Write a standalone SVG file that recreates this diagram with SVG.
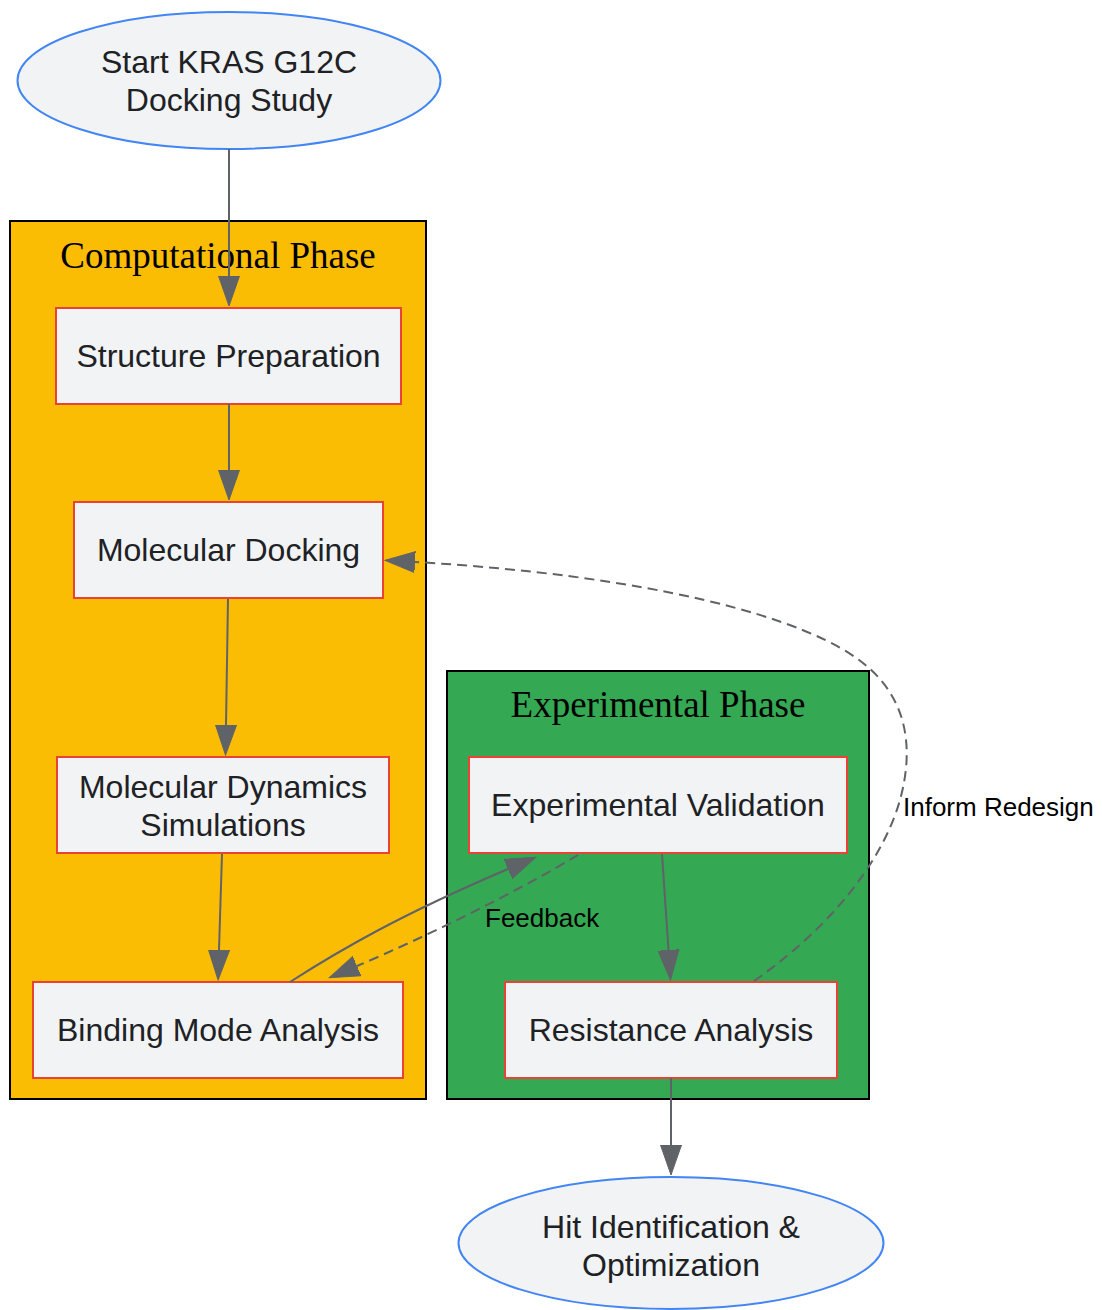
<svg xmlns="http://www.w3.org/2000/svg" width="1102" height="1310" viewBox="0 0 1102 1310">
<style>
.cl{stroke:#000;stroke-width:2}
.ctitle{font-family:"Liberation Serif","Times New Roman",serif;font-size:37px;fill:#000;text-anchor:middle}
.box{fill:#F1F3F4;stroke:#EA4335;stroke-width:2}
.ell{fill:#F1F3F4;stroke:#4285F4;stroke-width:2}
.t{font-family:"Liberation Sans",Arial,sans-serif;font-size:32px;fill:#202124;text-anchor:middle}
.e{fill:none;stroke:#5F6368;stroke-width:2}
.d{stroke-dasharray:10,6}
.lbl{font-family:"Liberation Sans",Arial,sans-serif;font-size:26px;fill:#000}
</style>
<defs>
<marker id="ah" markerUnits="userSpaceOnUse" markerWidth="32" markerHeight="24" refX="0" refY="11" orient="auto" viewBox="0 0 32 22">
<polygon points="0,0.5 30,11 0,21.5" fill="#5F6368" stroke="#5F6368" stroke-width="1"/>
</marker>
</defs>
<rect width="1102" height="1310" fill="#fff"/>
<g id="cluster_comp">
<rect class="cl" x="10" y="221" width="416" height="878" fill="#FBBC04"/>
<text class="ctitle" x="218" y="268">Computational Phase</text>
</g>
<g id="cluster_exp">
<rect class="cl" x="447" y="671" width="422" height="428" fill="#34A853"/>
<text class="ctitle" x="658" y="717">Experimental Phase</text>
</g>
<g id="start">
<ellipse class="ell" cx="229" cy="80.5" rx="211.5" ry="68.5"/>
<text class="t" x="229" y="73">Start KRAS G12C</text>
<text class="t" x="229" y="111">Docking Study</text>
</g>
<g id="prep">
<rect class="box" x="56" y="308" width="345" height="96"/>
<text class="t" x="228.5" y="367">Structure Preparation</text>
</g>
<g id="dock">
<rect class="box" x="74" y="502" width="309" height="96"/>
<text class="t" x="228.5" y="561">Molecular Docking</text>
</g>
<g id="md">
<rect class="box" x="57" y="757" width="332" height="96"/>
<text class="t" x="223" y="798">Molecular Dynamics</text>
<text class="t" x="223" y="836">Simulations</text>
</g>
<g id="bind">
<rect class="box" x="33" y="982" width="370" height="96"/>
<text class="t" x="218" y="1041">Binding Mode Analysis</text>
</g>
<g id="expval">
<rect class="box" x="469" y="757" width="378" height="96"/>
<text class="t" x="658" y="816">Experimental Validation</text>
</g>
<g id="resist">
<rect class="box" x="505" y="982" width="332" height="96"/>
<text class="t" x="671" y="1041">Resistance Analysis</text>
</g>
<g id="hit">
<ellipse class="ell" cx="671" cy="1243" rx="212.5" ry="66"/>
<text class="t" x="671" y="1238">Hit Identification &amp;</text>
<text class="t" x="671" y="1276">Optimization</text>
</g>
<g id="edges">
<path class="e" d="M229,149 L229,276" marker-end="url(#ah)"/>
<path class="e" d="M229,404 L229,470" marker-end="url(#ah)"/>
<path class="e" d="M228,599 L226,725" marker-end="url(#ah)"/>
<path class="e" d="M222,854 L219,950" marker-end="url(#ah)"/>
<path class="e" d="M290,982 C340,950 400,915 508,869" marker-end="url(#ah)"/>
<path class="e d" d="M578,855 C520,890 430,935 357,966" marker-end="url(#ah)"/>
<path class="e" d="M662,854 L668.5,950" marker-end="url(#ah)"/>
<path class="e d" d="M754,981 C820,935 880,870 900,800 C915,745 905,700 869,668 C810,615 640,575 415,562" marker-end="url(#ah)"/>
<path class="e" d="M671,1078 L671,1145" marker-end="url(#ah)"/>
<text class="lbl" x="485" y="927">Feedback</text>
<text class="lbl" x="903" y="816">Inform Redesign</text>
</g>
</svg>
